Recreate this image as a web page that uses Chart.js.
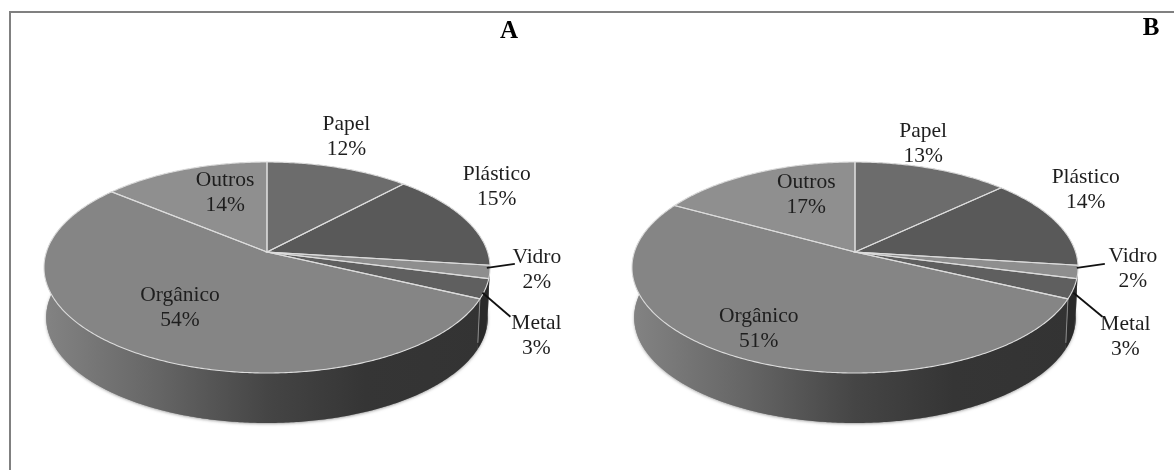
<!DOCTYPE html>
<html><head><meta charset="utf-8">
<script src="https://cdn.jsdelivr.net/npm/chart.js@4"></script>
<style>html,body{margin:0;padding:0;background:#fff}canvas{display:block}</style>
</head><body><canvas id="c" width="1174" height="470"></canvas>
<script>
const categories = ['Papel','Plástico','Vidro','Metal','Orgânico','Outros'];
const valuesA = [12,15,2,3,54,14];
const valuesB = [13,14,2,3,51,17];
const panelTitles = ['A','B'];

// layout / style (separate from the data)
const topColors = ['#6c6c6c','#595959','#8e8e8e','#5f5f5f','#858585','#8f8f8f'];
const wallColors = ['#444444','#3a3a3a','#3a3a3a','#2a2a2a',null,'#777777'];
const centers = [267,855];
const apexY = 252, A = 220.6, B = 103.2, K = 0.147, DEPTH = 50, WALL_SCALE = 0.99;
const titlePos = [[509,32],[1151,29]];
const labelOffsets = [
  [[8,-31],[32,-32],[47,-2],[51,47],[48,-44],[41,23]],
  [[-9,-25],[30,-32],[55,-3],[52,48],[19,-29],[51,22]]
];
const leaders = [
  {2:[[-3,-4],[25,-8]],3:[[-3,4],[25,28]]},
  {2:[[-1,-4],[27,-8]],3:[[0,4],[29,28]]}
];

function rim(cx,t){ // t: clockwise angle from the top
  const u=Math.sin(t), v=-Math.cos(t), d=1-K*v;
  return [cx+A*u/d, apexY+B*v/d];
}
function traceRim(ctx,cx,t0,t1,first,scale,dy){
  const n=Math.max(2,Math.ceil(Math.abs(t1-t0)/0.01));
  for(let i=0;i<=n;i++){
    const p=rim(cx,t0+(t1-t0)*i/n);
    const x=cx+(p[0]-cx)*scale, y=p[1]+dy;
    if(i===0&&first) ctx.moveTo(x,y); else ctx.lineTo(x,y);
  }
}

const pie3d = {
  id:'pie3d',
  beforeDraw(chart){
    const ctx=chart.ctx;
    ctx.save();
    ctx.fillStyle='#fff';ctx.fillRect(0,0,1174,470);
    ctx.strokeStyle='#808080';ctx.lineWidth=2;
    ctx.beginPath();ctx.moveTo(10,470);ctx.lineTo(10,12);ctx.lineTo(1174,12);ctx.stroke();
    ctx.restore();
  },
  beforeDatasetDraw(chart,args){
    const ctx=chart.ctx, idx=args.index, cx=centers[idx], arcs=args.meta.data;
    const ang=arcs.map(e=>{const p=e.getProps(['startAngle','endAngle'],true);
      return [p.startAngle+Math.PI/2,p.endAngle+Math.PI/2];});
    ctx.save();
    // soft edge under the wall
    ctx.save();
    ctx.shadowColor='rgba(90,90,90,0.55)';ctx.shadowBlur=3;ctx.shadowOffsetY=1;
    ctx.fillStyle='#888';
    ctx.beginPath();traceRim(ctx,cx,0,Math.PI*2,true,WALL_SCALE,DEPTH);ctx.closePath();ctx.fill();
    ctx.restore();
    // walls
    const grad=ctx.createLinearGradient(cx-223,0,cx+223,0);
    grad.addColorStop(0,'#838383');grad.addColorStop(0.25,'#666666');
    grad.addColorStop(0.5,'#454545');grad.addColorStop(0.72,'#353535');grad.addColorStop(1,'#333333');
    ang.forEach((a,i)=>{
      ctx.beginPath();
      traceRim(ctx,cx,a[0],a[1],true,1,0);
      traceRim(ctx,cx,a[1],a[0],false,WALL_SCALE,DEPTH);
      ctx.closePath();
      ctx.fillStyle=wallColors[i]||grad;ctx.fill();
    });
    // boundary of the metal / organic walls
    const bd=rim(cx,ang[4][0]);
    ctx.strokeStyle='#8a8a8a';ctx.lineWidth=1;
    ctx.beginPath();ctx.moveTo(bd[0],bd[1]);ctx.lineTo(cx+(bd[0]-cx)*WALL_SCALE,bd[1]+DEPTH-6);ctx.stroke();
    // top faces
    ang.forEach((a,i)=>{
      ctx.beginPath();ctx.moveTo(cx,apexY);
      traceRim(ctx,cx,a[0],a[1],false,1,0);
      ctx.closePath();
      ctx.fillStyle=arcs[i].options.backgroundColor;ctx.fill();
    });
    ang.forEach((a,i)=>{
      ctx.beginPath();ctx.moveTo(cx,apexY);
      traceRim(ctx,cx,a[0],a[1],false,1,0);
      ctx.closePath();
      ctx.strokeStyle='#dcdcdc';ctx.lineWidth=1.1;ctx.stroke();
    });
    // labels
    const ds=chart.data.datasets[idx];
    ang.forEach((a,i)=>{
      const p=rim(cx,(a[0]+a[1])/2), off=labelOffsets[idx][i];
      const l=leaders[idx][i];
      if(l){
        ctx.strokeStyle='#111';ctx.lineWidth=1.8;
        ctx.beginPath();ctx.moveTo(p[0]+l[0][0],p[1]+l[0][1]);ctx.lineTo(p[0]+l[1][0],p[1]+l[1][1]);ctx.stroke();
      }
      ctx.fillStyle='#1e1e1e';ctx.font='21.5px "Liberation Serif"';
      ctx.textAlign='center';ctx.textBaseline='middle';
      ctx.fillText(chart.data.labels[i],p[0]+off[0],p[1]+off[1]-12.5);
      ctx.fillText(ds.data[i]+'%',p[0]+off[0],p[1]+off[1]+12.5);
    });
    ctx.fillStyle='#000';ctx.font='bold 25px "Liberation Serif"';
    ctx.textAlign='center';ctx.textBaseline='middle';
    ctx.fillText(panelTitles[idx],titlePos[idx][0],titlePos[idx][1]);
    ctx.restore();
    return false;
  }
};

new Chart(document.getElementById('c'),{
  type:'pie',
  data:{labels:categories,datasets:[
    {label:panelTitles[0],data:valuesA,backgroundColor:topColors},
    {label:panelTitles[1],data:valuesB,backgroundColor:topColors}
  ]},
  options:{responsive:false,animation:false,
    plugins:{legend:{display:false},tooltip:{enabled:false}}},
  plugins:[pie3d]
});
</script></body></html>
